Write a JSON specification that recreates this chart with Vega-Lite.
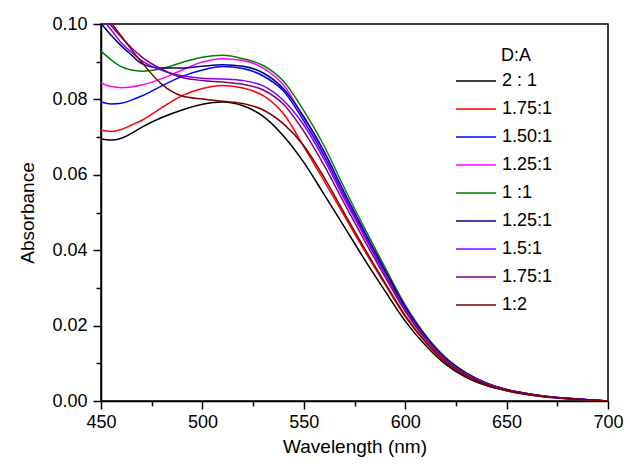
{
 "$schema": "https://vega.github.io/schema/vega-lite/v6.json",
 "width": 507, "height": 377,
 "autosize": {"type": "none"},
 "padding": {"left": 101, "top": 24, "right": 22, "bottom": 65},
 "background": "white",
 "config": {
  "font": "Liberation Sans",
  "view": {"stroke": "black", "strokeWidth": 1.5},
  "axis": {"domainColor": "black", "domainWidth": 1.5, "tickColor": "black", "tickWidth": 1.5, "tickSize": 8, "grid": false,
           "labelFontSize": 18, "labelColor": "black", "titleFontSize": 19, "titleFontWeight": "normal", "titleColor": "black", "labelFlush": false}
 },
 "datasets": {
  "spectra": [
   {"w":450,"r":"2:1","a":0.0696},{"w":455,"r":"2:1","a":0.0692},{"w":460,"r":"2:1","a":0.0697},{"w":465,"r":"2:1","a":0.0710},{"w":470,"r":"2:1","a":0.0726},{"w":480,"r":"2:1","a":0.0752},{"w":490,"r":"2:1","a":0.0772},{"w":500,"r":"2:1","a":0.0787},{"w":510,"r":"2:1","a":0.0793},{"w":520,"r":"2:1","a":0.0783},{"w":530,"r":"2:1","a":0.0755},{"w":540,"r":"2:1","a":0.0703},{"w":550,"r":"2:1","a":0.0633},{"w":560,"r":"2:1","a":0.0548},{"w":570,"r":"2:1","a":0.0462},{"w":580,"r":"2:1","a":0.0375},{"w":590,"r":"2:1","a":0.0292},{"w":600,"r":"2:1","a":0.0212},{"w":610,"r":"2:1","a":0.0148},{"w":620,"r":"2:1","a":0.0097},{"w":630,"r":"2:1","a":0.0063},{"w":640,"r":"2:1","a":0.0041},{"w":650,"r":"2:1","a":0.0027},{"w":660,"r":"2:1","a":0.0017},{"w":670,"r":"2:1","a":0.0010},{"w":680,"r":"2:1","a":0.0006},{"w":690,"r":"2:1","a":0.0003},{"w":700,"r":"2:1","a":0.0000},
   {"w":450,"r":"1.75:1","a":0.0718},{"w":455,"r":"1.75:1","a":0.0715},{"w":460,"r":"1.75:1","a":0.0720},{"w":465,"r":"1.75:1","a":0.0732},{"w":470,"r":"1.75:1","a":0.0744},{"w":480,"r":"1.75:1","a":0.0778},{"w":490,"r":"1.75:1","a":0.0810},{"w":500,"r":"1.75:1","a":0.0829},{"w":510,"r":"1.75:1","a":0.0837},{"w":520,"r":"1.75:1","a":0.0830},{"w":530,"r":"1.75:1","a":0.0810},{"w":540,"r":"1.75:1","a":0.0762},{"w":550,"r":"1.75:1","a":0.0675},{"w":560,"r":"1.75:1","a":0.0584},{"w":570,"r":"1.75:1","a":0.0491},{"w":580,"r":"1.75:1","a":0.0398},{"w":590,"r":"1.75:1","a":0.0310},{"w":600,"r":"1.75:1","a":0.0224},{"w":610,"r":"1.75:1","a":0.0156},{"w":620,"r":"1.75:1","a":0.0102},{"w":630,"r":"1.75:1","a":0.0066},{"w":640,"r":"1.75:1","a":0.0043},{"w":650,"r":"1.75:1","a":0.0028},{"w":660,"r":"1.75:1","a":0.0018},{"w":670,"r":"1.75:1","a":0.0011},{"w":680,"r":"1.75:1","a":0.0006},{"w":690,"r":"1.75:1","a":0.0003},{"w":700,"r":"1.75:1","a":0.0000},
   {"w":450,"r":"1.50:1","a":0.0793},{"w":455,"r":"1.50:1","a":0.0788},{"w":460,"r":"1.50:1","a":0.0790},{"w":465,"r":"1.50:1","a":0.0798},{"w":470,"r":"1.50:1","a":0.0809},{"w":480,"r":"1.50:1","a":0.0836},{"w":490,"r":"1.50:1","a":0.0861},{"w":500,"r":"1.50:1","a":0.0878},{"w":510,"r":"1.50:1","a":0.0887},{"w":520,"r":"1.50:1","a":0.0882},{"w":530,"r":"1.50:1","a":0.0862},{"w":540,"r":"1.50:1","a":0.0822},{"w":550,"r":"1.50:1","a":0.0743},{"w":560,"r":"1.50:1","a":0.0651},{"w":570,"r":"1.50:1","a":0.0544},{"w":580,"r":"1.50:1","a":0.0441},{"w":590,"r":"1.50:1","a":0.0342},{"w":600,"r":"1.50:1","a":0.0246},{"w":610,"r":"1.50:1","a":0.0170},{"w":620,"r":"1.50:1","a":0.0111},{"w":630,"r":"1.50:1","a":0.0073},{"w":640,"r":"1.50:1","a":0.0047},{"w":650,"r":"1.50:1","a":0.0030},{"w":660,"r":"1.50:1","a":0.0019},{"w":670,"r":"1.50:1","a":0.0012},{"w":680,"r":"1.50:1","a":0.0007},{"w":690,"r":"1.50:1","a":0.0003},{"w":700,"r":"1.50:1","a":0.0000},
   {"w":450,"r":"1.25:1","a":0.0844},{"w":455,"r":"1.25:1","a":0.0834},{"w":460,"r":"1.25:1","a":0.0831},{"w":465,"r":"1.25:1","a":0.0833},{"w":470,"r":"1.25:1","a":0.0838},{"w":480,"r":"1.25:1","a":0.0855},{"w":490,"r":"1.25:1","a":0.0878},{"w":500,"r":"1.25:1","a":0.0899},{"w":510,"r":"1.25:1","a":0.0908},{"w":520,"r":"1.25:1","a":0.0903},{"w":530,"r":"1.25:1","a":0.0883},{"w":540,"r":"1.25:1","a":0.0838},{"w":550,"r":"1.25:1","a":0.0751},{"w":560,"r":"1.25:1","a":0.0659},{"w":570,"r":"1.25:1","a":0.0551},{"w":580,"r":"1.25:1","a":0.0446},{"w":590,"r":"1.25:1","a":0.0346},{"w":600,"r":"1.25:1","a":0.0249},{"w":610,"r":"1.25:1","a":0.0171},{"w":620,"r":"1.25:1","a":0.0112},{"w":630,"r":"1.25:1","a":0.0073},{"w":640,"r":"1.25:1","a":0.0047},{"w":650,"r":"1.25:1","a":0.0030},{"w":660,"r":"1.25:1","a":0.0020},{"w":670,"r":"1.25:1","a":0.0012},{"w":680,"r":"1.25:1","a":0.0007},{"w":690,"r":"1.25:1","a":0.0003},{"w":700,"r":"1.25:1","a":0.0000},
   {"w":450,"r":"1:1","a":0.0928},{"w":455,"r":"1:1","a":0.0905},{"w":460,"r":"1:1","a":0.0887},{"w":465,"r":"1:1","a":0.0878},{"w":470,"r":"1:1","a":0.0875},{"w":480,"r":"1:1","a":0.0882},{"w":490,"r":"1:1","a":0.0898},{"w":500,"r":"1:1","a":0.0912},{"w":510,"r":"1:1","a":0.0917},{"w":520,"r":"1:1","a":0.0908},{"w":530,"r":"1:1","a":0.0890},{"w":540,"r":"1:1","a":0.0848},{"w":550,"r":"1:1","a":0.0770},{"w":560,"r":"1:1","a":0.0677},{"w":570,"r":"1:1","a":0.0565},{"w":580,"r":"1:1","a":0.0458},{"w":590,"r":"1:1","a":0.0355},{"w":600,"r":"1:1","a":0.0255},{"w":610,"r":"1:1","a":0.0175},{"w":620,"r":"1:1","a":0.0115},{"w":630,"r":"1:1","a":0.0075},{"w":640,"r":"1:1","a":0.0048},{"w":650,"r":"1:1","a":0.0031},{"w":660,"r":"1:1","a":0.0020},{"w":670,"r":"1:1","a":0.0012},{"w":680,"r":"1:1","a":0.0007},{"w":690,"r":"1:1","a":0.0003},{"w":700,"r":"1:1","a":0.0000},
   {"w":450,"r":"1:1.25","a":0.1002},{"w":455,"r":"1:1.25","a":0.0970},{"w":460,"r":"1:1.25","a":0.0942},{"w":465,"r":"1:1.25","a":0.0918},{"w":470,"r":"1:1.25","a":0.0895},{"w":480,"r":"1:1.25","a":0.0883},{"w":490,"r":"1:1.25","a":0.0883},{"w":500,"r":"1:1.25","a":0.0888},{"w":510,"r":"1:1.25","a":0.0892},{"w":520,"r":"1:1.25","a":0.0888},{"w":530,"r":"1:1.25","a":0.0870},{"w":540,"r":"1:1.25","a":0.0828},{"w":550,"r":"1:1.25","a":0.0754},{"w":560,"r":"1:1.25","a":0.0662},{"w":570,"r":"1:1.25","a":0.0553},{"w":580,"r":"1:1.25","a":0.0448},{"w":590,"r":"1:1.25","a":0.0347},{"w":600,"r":"1:1.25","a":0.0250},{"w":610,"r":"1:1.25","a":0.0172},{"w":620,"r":"1:1.25","a":0.0113},{"w":630,"r":"1:1.25","a":0.0074},{"w":640,"r":"1:1.25","a":0.0047},{"w":650,"r":"1:1.25","a":0.0030},{"w":660,"r":"1:1.25","a":0.0020},{"w":670,"r":"1:1.25","a":0.0012},{"w":680,"r":"1:1.25","a":0.0007},{"w":690,"r":"1:1.25","a":0.0003},{"w":700,"r":"1:1.25","a":0.0000},
   {"w":450,"r":"1:1.5","a":0.1015},{"w":455,"r":"1:1.5","a":0.0985},{"w":460,"r":"1:1.5","a":0.0950},{"w":465,"r":"1:1.5","a":0.0925},{"w":470,"r":"1:1.5","a":0.0903},{"w":480,"r":"1:1.5","a":0.0877},{"w":490,"r":"1:1.5","a":0.0863},{"w":500,"r":"1:1.5","a":0.0856},{"w":510,"r":"1:1.5","a":0.0854},{"w":520,"r":"1:1.5","a":0.0850},{"w":530,"r":"1:1.5","a":0.0836},{"w":540,"r":"1:1.5","a":0.0797},{"w":550,"r":"1:1.5","a":0.0732},{"w":560,"r":"1:1.5","a":0.0641},{"w":570,"r":"1:1.5","a":0.0536},{"w":580,"r":"1:1.5","a":0.0435},{"w":590,"r":"1:1.5","a":0.0337},{"w":600,"r":"1:1.5","a":0.0243},{"w":610,"r":"1:1.5","a":0.0167},{"w":620,"r":"1:1.5","a":0.0110},{"w":630,"r":"1:1.5","a":0.0072},{"w":640,"r":"1:1.5","a":0.0046},{"w":650,"r":"1:1.5","a":0.0030},{"w":660,"r":"1:1.5","a":0.0019},{"w":670,"r":"1:1.5","a":0.0011},{"w":680,"r":"1:1.5","a":0.0007},{"w":690,"r":"1:1.5","a":0.0003},{"w":700,"r":"1:1.5","a":0.0000},
   {"w":450,"r":"1:1.75","a":0.1035},{"w":455,"r":"1:1.75","a":0.0996},{"w":460,"r":"1:1.75","a":0.0965},{"w":465,"r":"1:1.75","a":0.0937},{"w":470,"r":"1:1.75","a":0.0913},{"w":480,"r":"1:1.75","a":0.0880},{"w":490,"r":"1:1.75","a":0.0858},{"w":500,"r":"1:1.75","a":0.0850},{"w":510,"r":"1:1.75","a":0.0846},{"w":520,"r":"1:1.75","a":0.0840},{"w":530,"r":"1:1.75","a":0.0825},{"w":540,"r":"1:1.75","a":0.0787},{"w":550,"r":"1:1.75","a":0.0715},{"w":560,"r":"1:1.75","a":0.0625},{"w":570,"r":"1:1.75","a":0.0524},{"w":580,"r":"1:1.75","a":0.0425},{"w":590,"r":"1:1.75","a":0.0330},{"w":600,"r":"1:1.75","a":0.0238},{"w":610,"r":"1:1.75","a":0.0164},{"w":620,"r":"1:1.75","a":0.0108},{"w":630,"r":"1:1.75","a":0.0070},{"w":640,"r":"1:1.75","a":0.0045},{"w":650,"r":"1:1.75","a":0.0029},{"w":660,"r":"1:1.75","a":0.0019},{"w":670,"r":"1:1.75","a":0.0011},{"w":680,"r":"1:1.75","a":0.0007},{"w":690,"r":"1:1.75","a":0.0003},{"w":700,"r":"1:1.75","a":0.0000},
   {"w":450,"r":"1:2","a":0.1045},{"w":455,"r":"1:2","a":0.1004},{"w":460,"r":"1:2","a":0.0968},{"w":465,"r":"1:2","a":0.0932},{"w":470,"r":"1:2","a":0.0899},{"w":480,"r":"1:2","a":0.0840},{"w":490,"r":"1:2","a":0.0809},{"w":500,"r":"1:2","a":0.0801},{"w":510,"r":"1:2","a":0.0795},{"w":520,"r":"1:2","a":0.0789},{"w":530,"r":"1:2","a":0.0772},{"w":540,"r":"1:2","a":0.0735},{"w":550,"r":"1:2","a":0.0677},{"w":560,"r":"1:2","a":0.0593},{"w":570,"r":"1:2","a":0.0498},{"w":580,"r":"1:2","a":0.0404},{"w":590,"r":"1:2","a":0.0314},{"w":600,"r":"1:2","a":0.0227},{"w":610,"r":"1:2","a":0.0157},{"w":620,"r":"1:2","a":0.0103},{"w":630,"r":"1:2","a":0.0067},{"w":640,"r":"1:2","a":0.0043},{"w":650,"r":"1:2","a":0.0028},{"w":660,"r":"1:2","a":0.0018},{"w":670,"r":"1:2","a":0.0011},{"w":680,"r":"1:2","a":0.0006},{"w":690,"r":"1:2","a":0.0003},{"w":700,"r":"1:2","a":0.0000}
  ]
 },
 "data": {"name": "spectra"},
 "layer": [
  {
   "mark": {"type": "line", "strokeWidth": 1.5, "clip": true, "interpolate": "monotone"},
   "encoding": {
    "x": {"field": "w", "type": "quantitative", "scale": {"domain": [450, 700], "nice": false, "zero": false},
          "axis": {"values": [450, 500, 550, 600, 650, 700], "title": "Wavelength (nm)", "labelPadding": 4, "titlePadding": 6}},
    "y": {"field": "a", "type": "quantitative", "scale": {"domain": [0, 0.1], "nice": false},
          "axis": {"values": [0, 0.02, 0.04, 0.06, 0.08, 0.1], "format": ".2f", "title": "Absorbance", "labelPadding": 6, "titlePadding": 14}},
    "color": {"field": "r", "type": "nominal",
     "scale": {"domain": ["2:1", "1.75:1", "1.50:1", "1.25:1", "1:1", "1:1.25", "1:1.5", "1:1.75", "1:2"],
               "range": ["#000000", "#ff0000", "#0000ff", "#ff00ff", "#008000", "#000080", "#8000ff", "#800080", "#800000"]},
     "legend": {"orient": "none", "legendX": 366, "legendY": 23, "title": "D:A",
                "titleFontSize": 18, "titleFontWeight": "normal", "titleColor": "black", "titlePadding": 7,
                "labelFontSize": 18, "labelColor": "black", "labelOffset": 17,
                "symbolType": "M-2.5,0H2.5", "symbolSize": 256, "symbolStrokeWidth": 1.5, "rowPadding": 10,
                "encode": {"title": {"update": {"dx": {"value": 34}}}},
                "labelExpr": "datum.label == '2:1' ? '2 : 1' : datum.label == '1:1' ? '1 :1' : datum.label == '1:1.25' ? '1.25:1' : datum.label == '1:1.5' ? '1.5:1' : datum.label == '1:1.75' ? '1.75:1' : datum.label"}}
   }
  },
  {
   "mark": {"type": "line", "strokeOpacity": 0, "clip": true},
   "encoding": {
    "x": {"field": "w", "type": "quantitative", "axis": {"orient": "bottom", "values": [475, 525, 575, 625, 675], "labels": false, "tickSize": 5, "domain": false, "title": null}},
    "y": {"field": "a", "type": "quantitative", "axis": {"orient": "left", "values": [0.01, 0.03, 0.05, 0.07, 0.09], "labels": false, "tickSize": 5, "domain": false, "title": null}},
    "detail": {"field": "r"}
   }
  }
 ],
 "resolve": {"axis": {"x": "independent", "y": "independent"}}
}
